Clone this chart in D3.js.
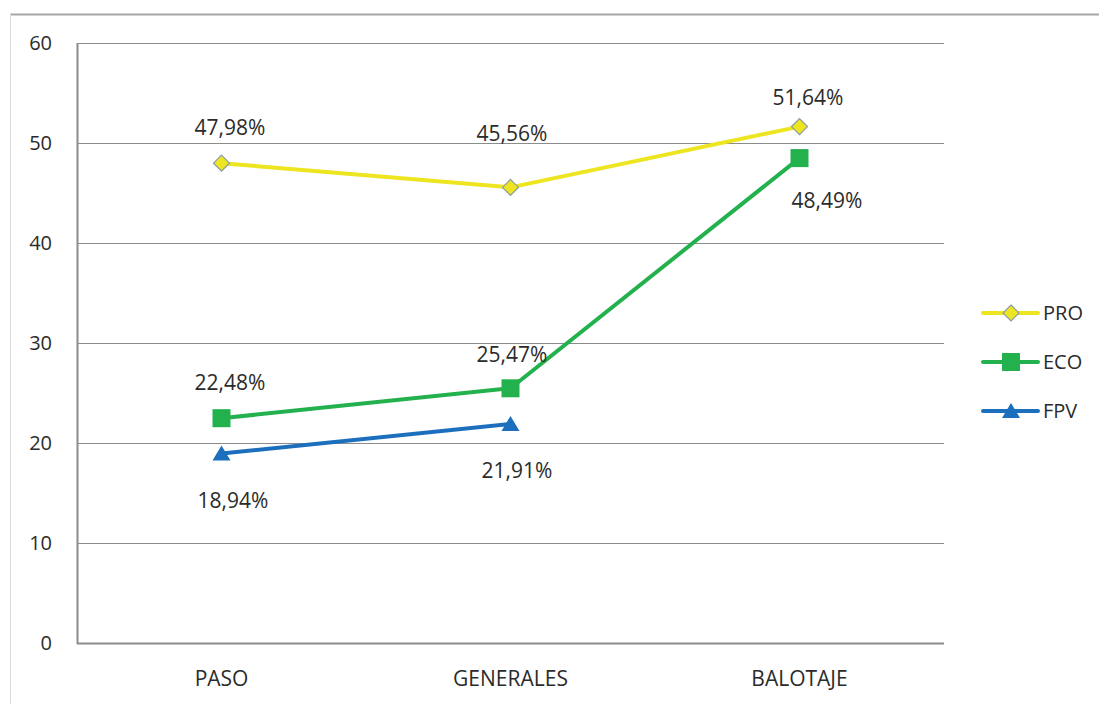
<!DOCTYPE html>
<html>
<head>
<meta charset="utf-8">
<script src="https://cdn.jsdelivr.net/npm/d3@7"></script>
<style>
  body { margin: 0; background: #fff; }
  svg { font-family: "Open Sans", "Liberation Sans", sans-serif; }
</style>
</head>
<body>
<svg width="1099" height="704"></svg>
<script>
// data
const categories = ["PASO", "GENERALES", "BALOTAJE"];
const seriesNames = ["PRO", "ECO", "FPV"];
const proValues = [47.98, 45.56, 51.64];
const ecoValues = [22.48, 25.47, 48.49];
const fpvValues = [18.94, 21.91];
const yTicks = [0, 10, 20, 30, 40, 50, 60];

const width = 1099, height = 704;
const margin = {top: 43, right: 155, bottom: 61, left: 77};
const plotW = width - margin.left - margin.right;
const plotH = height - margin.top - margin.bottom;

const colors = {PRO: "#ece51f", ECO: "#22b14c", FPV: "#1b6fbd"};
const textColor = "#2b2b2b";

const svg = d3.select("svg");

// outer frame lines
svg.append("line")
  .attr("x1", 10).attr("x2", width).attr("y1", 14.5).attr("y2", 14.5)
  .attr("stroke", "#a6a6a6").attr("stroke-width", 2);
svg.append("line")
  .attr("x1", 10.5).attr("x2", 10.5).attr("y1", 14).attr("y2", height)
  .attr("stroke", "#d9d9d9").attr("stroke-width", 1);

const g = svg.append("g")
  .attr("transform", `translate(${margin.left}, ${margin.top})`);

const x = d3.scaleBand()
  .domain(categories)
  .range([0, plotW]);

const y = d3.scaleLinear()
  .domain([0, 60])
  .range([plotH, 0]);

// gridlines
g.selectAll("line.grid")
  .data(yTicks)
  .enter().append("line")
  .attr("class", "grid")
  .attr("x1", 0).attr("x2", plotW)
  .attr("y1", d => Math.round(y(d)) + 0.5)
  .attr("y2", d => Math.round(y(d)) + 0.5)
  .attr("stroke", "#8c8c8c")
  .attr("stroke-width", 1);

// left + bottom axis lines
g.append("line")
  .attr("x1", 0.5).attr("x2", 0.5)
  .attr("y1", 0).attr("y2", plotH + 1)
  .attr("stroke", "#8c8c8c")
  .attr("stroke-width", 2);
g.append("line")
  .attr("x1", 0).attr("x2", plotW)
  .attr("y1", plotH + 0.5).attr("y2", plotH + 0.5)
  .attr("stroke", "#8c8c8c")
  .attr("stroke-width", 2);

// y labels
const yAxis = d3.axisLeft(y).tickValues(yTicks).tickSize(0).tickPadding(25);
const yg = g.append("g").call(yAxis);
yg.select(".domain").remove();
yg.selectAll("text")
  .attr("fill", textColor)
  .style("font-size", "20px")
  .style("font-family", "'Open Sans', sans-serif");

// x labels
const xAxis = d3.axisBottom(x).tickSize(0).tickPadding(28);
const xg = g.append("g")
  .attr("transform", `translate(0, ${plotH})`)
  .call(xAxis);
xg.select(".domain").remove();
xg.selectAll("text")
  .attr("fill", textColor)
  .style("font-size", "21px")
  .style("font-family", "'Open Sans', sans-serif");

const cx = c => x(c) + x.bandwidth() / 2;

const seriesData = [
  {name: "PRO", values: proValues},
  {name: "ECO", values: ecoValues},
  {name: "FPV", values: fpvValues}
];

const line = d3.line()
  .x((d, i) => cx(categories[i]))
  .y(d => y(d));

// lines
g.selectAll("path.series")
  .data(seriesData)
  .enter().append("path")
  .attr("class", "series")
  .attr("d", d => line(d.values))
  .attr("fill", "none")
  .attr("stroke", d => colors[d.name])
  .attr("stroke-width", 4)
  .attr("stroke-linejoin", "round");

// markers
function drawMarker(sel, name, px, py) {
  if (name === "PRO") {
    sel.append("path")
      .attr("d", `M${px},${py - 8}L${px + 8},${py}L${px},${py + 8}L${px - 8},${py}Z`)
      .attr("fill", colors.PRO)
      .attr("stroke", "#8a9aa8")
      .attr("stroke-width", 1.2);
  } else if (name === "ECO") {
    sel.append("rect")
      .attr("x", px - 9).attr("y", py - 9)
      .attr("width", 18).attr("height", 18)
      .attr("fill", colors.ECO);
  } else {
    sel.append("path")
      .attr("d", `M${px},${py - 8}L${px + 9},${py + 7}L${px - 9},${py + 7}Z`)
      .attr("fill", colors.FPV);
  }
}

seriesData.forEach(s => {
  s.values.forEach((v, i) => {
    drawMarker(g, s.name, cx(categories[i]), y(v));
  });
});

// value labels (offset from the point, as in the original)
const labelOffsets = {
  PRO: [[8.5, -28], [1.5, -46], [8.5, -22]],
  ECO: [[8.5, -28], [1.5, -26], [27.5, 50]],
  FPV: [[11.5, 54], [6.5, 54]]
};

seriesData.forEach(s => {
  s.values.forEach((v, i) => {
    const off = labelOffsets[s.name][i];
    g.append("text")
      .attr("x", cx(categories[i]) + off[0])
      .attr("y", y(v) + off[1])
      .attr("text-anchor", "middle")
      .attr("fill", textColor)
      .style("font-size", "21px")
      .text(d3.format(".2f")(v).replace(".", ",") + "%");
  });
});

// legend
const legend = svg.selectAll("g.legend")
  .data(seriesNames)
  .enter().append("g")
  .attr("class", "legend")
  .attr("transform", (d, i) => `translate(983, ${313 + i * 49})`);

legend.append("line")
  .attr("x1", 0).attr("x2", 55)
  .attr("y1", 0).attr("y2", 0)
  .attr("stroke", d => colors[d])
  .attr("stroke-width", 4)
  .attr("stroke-linecap", "round");

legend.each(function(d) {
  drawMarker(d3.select(this), d, 28, 0);
});

legend.append("text")
  .attr("x", 60)
  .attr("y", 7)
  .attr("fill", textColor)
  .style("font-size", "20px")
  .text(d => d);
</script>
</body>
</html>
